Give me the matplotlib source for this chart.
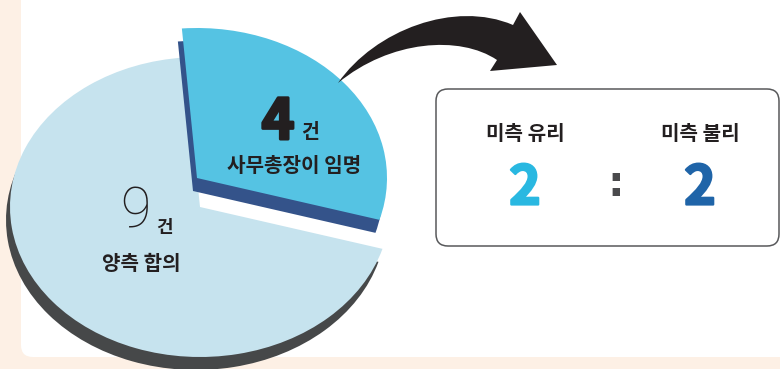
import numpy as np
import matplotlib
matplotlib.use("Agg")
import matplotlib.pyplot as plt
import matplotlib.patheffects as pe
from matplotlib.patches import Wedge, FancyBboxPatch, PathPatch
from matplotlib.path import Path
from matplotlib.transforms import Affine2D

plt.rcParams["font.family"] = ["Noto Sans CJK KR", "DejaVu Sans"]

# data
pie_labels = ["양측 합의", "사무총장이 임명"]
pie_counts = [9, 4]
pie_colors = ["#c6e3ee", "#55c3e3"]
side_colors = ["#464849", "#34538a"]
box_labels = ["미측 유리", "미측 불리"]
box_values = [2, 2]
box_colors = ["#29b8e1", "#1f64a8"]

TEXT = "#231f20"
W, H = 780, 369

fig = plt.figure(figsize=(W / 100, H / 100), dpi=100)
fig.patch.set_facecolor("#fdf0e5")
ax = fig.add_axes([0, 0, 1, 1])
ax.set_xlim(0, W)
ax.set_ylim(H, 0)
ax.axis("off")

# white panel
ax.add_patch(FancyBboxPatch((21, -30), 800, 387, boxstyle="round,pad=0,rounding_size=12",
                            fc="white", ec="none", zorder=0))

# flattened pie: unit circle -> pixel space
tilt = Affine2D().scale(190, 150).translate(200, 207)
start = 16.2
edges = start + 360 * np.concatenate([[0], np.cumsum(pie_counts)]) / sum(pie_counts)
offsets = [(0, 0), (-3, -29)]   # second slice pulled out
depth = (-4, 13)

for i in range(len(pie_counts)):
    dx, dy = offsets[i]
    for shift, col, z in [(depth, side_colors[i], 2 + 2 * i), ((0, 0), pie_colors[i], 3 + 2 * i)]:
        tr = tilt + Affine2D().translate(dx + shift[0], dy + shift[1]) + ax.transData
        w = Wedge((0, 0), 1, edges[i], edges[i + 1], fc=col, ec="none", zorder=z)
        w.set_transform(tr)
        ax.add_patch(w)


def fat(col, lw=1.6):
    return [pe.withStroke(linewidth=lw, foreground=col)]


# slice labels
ax.text(278, 123, str(pie_counts[1]), fontsize=40, fontweight="bold", color=TEXT,
        ha="center", va="center", zorder=10, path_effects=fat(TEXT, 2.2))
ax.text(310, 133, "건", fontsize=14, fontweight="bold", color=TEXT,
        ha="center", va="center", zorder=10)
ax.text(294, 166, pie_labels[1], fontsize=14.5, fontweight="bold", color=TEXT,
        ha="center", va="center", zorder=10)
ax.text(135, 212, str(pie_counts[0]), fontsize=40, fontweight="light", color=TEXT,
        family=["Roboto", "DejaVu Sans"], ha="center", va="center", zorder=10)
ax.text(164, 227, "건", fontsize=13, fontweight="bold", color=TEXT,
        ha="center", va="center", zorder=10)
ax.text(141, 264, pie_labels[0], fontsize=14.5, fontweight="bold", color=TEXT,
        ha="center", va="center", zorder=10)

# curved arrow
verts = [(338, 83), (375, 30), (455, 0), (513, 25),
         (520, 12), (557, 65), (490, 71), (497, 60),
         (460, 35), (390, 40), (338, 83), (338, 83)]
codes = [Path.MOVETO, Path.CURVE4, Path.CURVE4, Path.CURVE4,
         Path.LINETO, Path.LINETO, Path.LINETO, Path.LINETO,
         Path.CURVE4, Path.CURVE4, Path.CURVE4, Path.CLOSEPOLY]
ax.add_patch(PathPatch(Path(verts, codes), fc="#231f20", ec="none", zorder=6))

# result box
ax.add_patch(FancyBboxPatch((436, 89), 343, 157, boxstyle="round,pad=0,rounding_size=12",
                            fc="white", ec="#58595b", lw=1.1, zorder=6))
for x, lab, val, col in zip([525, 700], box_labels, box_values, box_colors):
    ax.text(x, 133, lab, fontsize=14.5, fontweight="bold", color=TEXT,
            ha="center", va="center", zorder=10)
    ax.text(x, 189, str(val), fontsize=39, fontweight="bold", color=col,
            ha="center", va="center", zorder=10, path_effects=fat(col, 1.6))
ax.text(616, 184, ":", fontsize=30, fontweight="bold", color="#4a4a4c",
        family="DejaVu Sans", ha="center", va="center", zorder=10)

fig.savefig("out.png", dpi=100, facecolor=fig.get_facecolor())
